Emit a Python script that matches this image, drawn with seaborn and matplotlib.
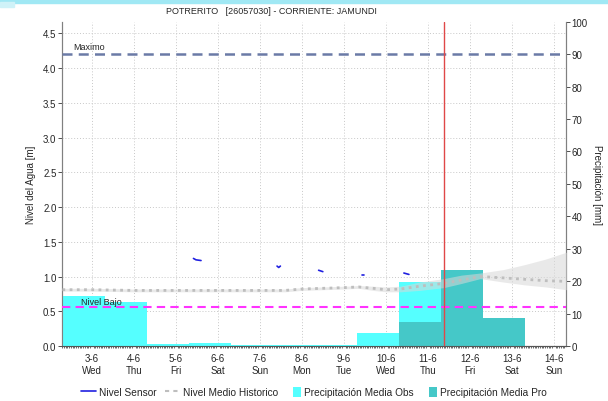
import pandas as pd
import matplotlib
matplotlib.use("Agg")
import matplotlib.pyplot as plt
import seaborn as sns
from matplotlib.lines import Line2D
from matplotlib.patches import Patch, Rectangle
from matplotlib.legend_handler import HandlerPatch
from matplotlib.ticker import MultipleLocator, FormatStrFormatter

# ---- data ----
day_ticks = [3, 4, 5, 6, 7, 8, 9, 10, 11, 12, 13, 14]
day_names = ["Wed", "Thu", "Fri", "Sat", "Sun", "Mon", "Tue", "Wed", "Thu", "Fri", "Sat", "Sun"]
tick_labels = [f"{d}-6\n{n}" for d, n in zip(day_ticks, day_names)]

# daily precipitation (mm), bars start at these day positions
obs_start = [2.31, 3.31, 4.31, 5.31, 6.31, 7.31, 8.31, 9.31, 10.31]
obs_mm = [15.4, 13.7, 0.5, 0.9, 0.3, 0.3, 0.3, 3.9, 19.6]
pro_start = [10.31, 11.31, 12.31, 13.31]
pro_mm = [7.5, 23.3, 8.6, 0.0]

# historical mean level (m) with its band
hist_days = [2.3, 3.0, 4.0, 5.0, 6.0, 7.0, 7.6, 8.0, 8.5, 9.0, 9.35, 9.7, 10.0, 10.35,
             10.8, 11.38, 11.8, 12.25, 12.8, 13.3, 13.8, 14.3]
hist_vals = [0.81, 0.81, 0.80, 0.80, 0.80, 0.80, 0.80, 0.82, 0.83, 0.84, 0.85, 0.83, 0.81, 0.82,
             0.86, 0.90, 0.95, 1.00, 0.98, 0.96, 0.94, 0.93]
hist_lo = [0.79, 0.79, 0.78, 0.78, 0.78, 0.78, 0.78, 0.80, 0.81, 0.82, 0.83, 0.80, 0.78, 0.78,
           0.80, 0.84, 0.90, 0.97, 0.92, 0.88, 0.85, 0.81]
hist_hi = [0.83, 0.83, 0.82, 0.82, 0.82, 0.82, 0.82, 0.84, 0.85, 0.86, 0.87, 0.86, 0.85, 0.86,
           0.92, 0.97, 1.02, 1.05, 1.10, 1.17, 1.25, 1.35]

# sensor level (m), short fragments
sensor_seg = [1, 1, 1, 2, 2, 2, 3, 3, 4, 4, 5, 5]
sensor_days = [5.42, 5.48, 5.60, 7.41, 7.45, 7.49, 8.40, 8.50, 9.44, 9.49, 10.43, 10.55]
sensor_m = [1.26, 1.24, 1.23, 1.15, 1.13, 1.15, 1.09, 1.07, 1.02, 1.02, 1.05, 1.03]

nivel_maximo = 4.2
nivel_bajo = 0.56
now_day = 11.38

OBS_C = "#55FFFF"
PRO_C = "#45C8C8"


def square_patch(legend, orig_handle, xdescent, ydescent, width, height, fontsize):
    # narrow square swatch sitting at the right end of the handle box
    return Rectangle((width - height * 0.8 - xdescent, -ydescent), height * 0.8, height)


sns.set_theme(style="white")
plt.rcParams["font.family"] = ["Liberation Sans", "DejaVu Sans"]
plt.rcParams["font.size"] = 7

fig = plt.figure(figsize=(6.08, 4.02), dpi=100)
ax = fig.add_axes([62 / 608, 1 - 347 / 402, (566 - 62) / 608, (347 - 22.7) / 402])
ax2 = ax.twinx()
ax3 = ax.twinx()

# top banner
fig.patches.append(Rectangle((0, 1 - 4 / 402), 1, 4 / 402, transform=fig.transFigure,
                             color="#A0E8F4", zorder=0))
fig.patches.append(Rectangle((0, 1 - 8 / 402), 14 / 608, 5 / 402, transform=fig.transFigure,
                             color="#CFF2F8", zorder=0))

# bars (precipitation, right axis)
obs_edges = obs_start + [obs_start[-1] + 1]
pro_edges = pro_start + [pro_start[-1] + 1]
sns.histplot(x=[s + 0.5 for s in obs_start], weights=obs_mm, bins=obs_edges, ax=ax2,
             color=OBS_C, alpha=1, linewidth=0, element="bars")
sns.histplot(x=[s + 0.5 for s in pro_start], weights=pro_mm, bins=pro_edges, ax=ax2,
             color=PRO_C, alpha=1, linewidth=0, element="bars")

# lines (level, left axis scale)
ax3.fill_between(hist_days, hist_lo, hist_hi, color="#D8D8D8", alpha=0.55, lw=0)
sns.lineplot(x=hist_days, y=hist_vals, ax=ax3, color="#BEBEBE", lw=2,
             linestyle=(0, (1, 1.6)))
sens = pd.DataFrame({"seg": sensor_seg, "day": sensor_days, "m": sensor_m})
sns.lineplot(data=sens, x="day", y="m", units="seg", estimator=None, sort=False,
             ax=ax3, color="#2020E0", lw=1.2)
ax3.axhline(nivel_maximo, color="#6B7AA6", lw=1.8, ls=(0, (4, 2.5)))
ax3.axhline(nivel_bajo, color="#FF33FF", lw=1.5, ls=(0, (4, 2.5)))
ax3.axvline(now_day, color="#E04848", lw=1)
ax3.text(2.55, 4.24, "Maximo", fontsize=6.5, va="bottom")
ax3.text(2.75, 0.58, "Nivel Bajo", fontsize=6.5, va="bottom")

# axes setup
ylim = (0, nivel_maximo / 0.9)
for a in (ax, ax2, ax3):
    a.set_xlim(2.29, 14.29)
ax.set_ylim(*ylim)
ax3.set_ylim(*ylim)
ax2.set_ylim(0, 100)

ax.set_zorder(0)
ax2.set_zorder(1)
ax3.set_zorder(2)
ax2.patch.set_visible(False)
ax3.patch.set_visible(False)
ax3.axis("off")

ax.set_xticks(day_ticks)
ax.set_xticklabels(tick_labels, fontsize=7)
ax.xaxis.set_minor_locator(MultipleLocator(1 / 24))
ax.yaxis.set_major_locator(MultipleLocator(0.5))
ax.yaxis.set_major_formatter(FormatStrFormatter("%.1f"))
ax.tick_params(axis="x", which="major", length=3, width=0.6, color="#333333", pad=2)
ax.tick_params(axis="x", which="minor", length=1.5, width=0.5, color="#333333", bottom=True)
ax.tick_params(axis="y", length=3, width=0.6, color="#333333", left=True, labelsize=7, pad=1)
ax.grid(True, which="major", color="#C8C8C8", lw=0.7, ls=(0, (1, 2)))

ax2.yaxis.set_major_locator(MultipleLocator(10))
ax2.tick_params(axis="y", length=3, width=0.6, color="#333333", right=True, labelsize=7, pad=1)
ax2.set_xlabel("")
ax2.set_ylabel("Precipitación [mm]", rotation=270, labelpad=10, fontsize=7)
ax.set_ylabel("Nivel del Agua [m]", labelpad=5, fontsize=7)

for a in (ax, ax2):
    a.spines["top"].set_visible(False)
    a.spines["left"].set_color("#808080")
    a.spines["right"].set_color("#808080")
    a.spines["bottom"].set_color("#555555")
    for s in a.spines.values():
        s.set_linewidth(0.8)

fig.text(271 / 608, 1 - 12 / 402, "POTRERITO   [26057030] - CORRIENTE: JAMUNDI",
         ha="center", va="center", fontsize=6.5)

handles = [
    Line2D([], [], color="#2020E0", lw=1.2),
    Line2D([], [], color="#BEBEBE", lw=1.5, ls=(0, (2, 2))),
    Patch(facecolor=OBS_C, edgecolor="none"),
    Patch(facecolor=PRO_C, edgecolor="none"),
]
labels = ["Nivel Sensor", "Nivel Medio Historico", "Precipitación Media Obs",
          "Precipitación Media Pro"]
fig.legend(handles, labels, loc="center", bbox_to_anchor=(314 / 608, 1 - 393 / 402), ncol=4,
           frameon=False, fontsize=7.3, handlelength=1.5, handleheight=1.2,
           columnspacing=0.8, handletextpad=0.3,
           handler_map={Patch: HandlerPatch(patch_func=square_patch)})

fig.savefig("out.png", dpi=100)
